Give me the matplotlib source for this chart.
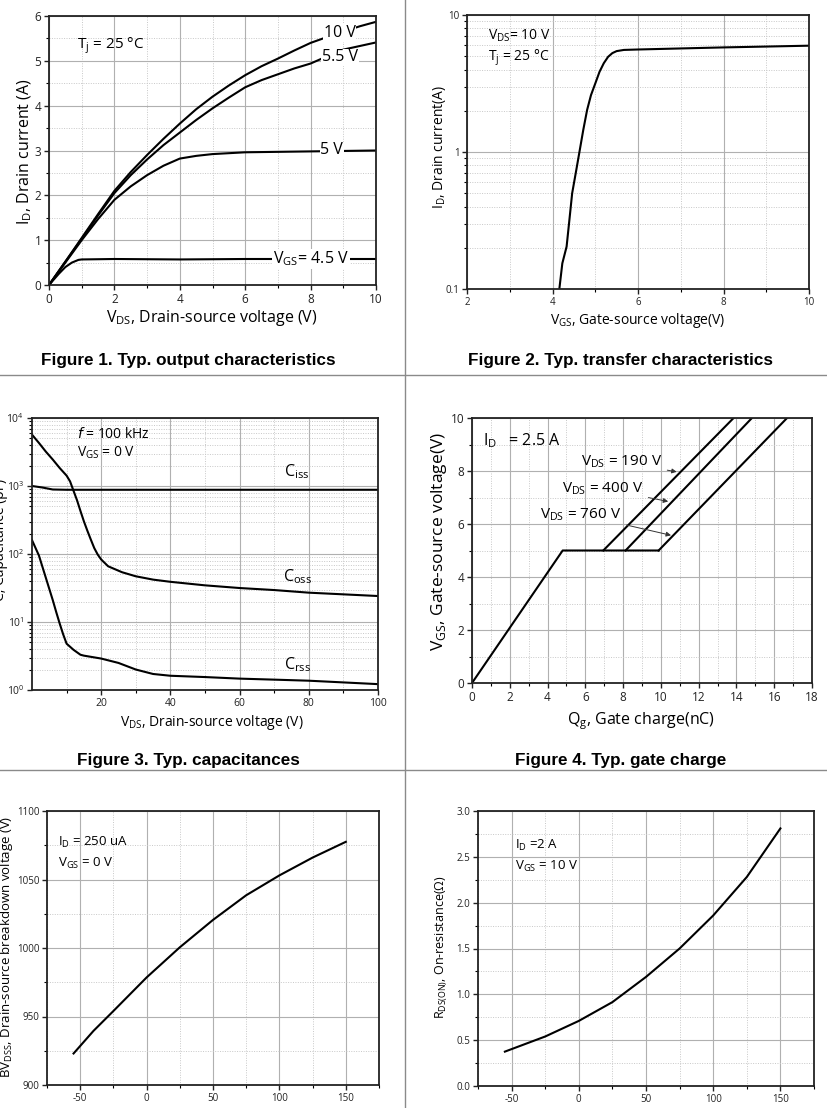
import matplotlib
matplotlib.use("Agg")
import matplotlib.pyplot as plt
from matplotlib.ticker import MultipleLocator, LogLocator, NullFormatter, FixedLocator, FormatStrFormatter
import numpy as np

plt.rcParams['font.family'] = ['Open Sans', 'DejaVu Sans']
plt.rcParams['mathtext.fontset'] = 'custom'
plt.rcParams['mathtext.rm'] = 'Open Sans'
plt.rcParams['axes.unicode_minus'] = False

W, H = 827, 1108

# ---------------- data ----------------
# Fig 1: output characteristics
f1_vds = [0, 0.5, 1, 1.5, 2, 2.5, 3, 3.5, 4, 4.5, 5, 5.5, 6, 6.5, 7, 7.5, 8, 8.5, 9, 9.5, 10]
f1_10v = [0, 0.52, 1.05, 1.58, 2.1, 2.52, 2.9, 3.26, 3.6, 3.92, 4.2, 4.45, 4.68, 4.88, 5.05, 5.23,
          5.4, 5.53, 5.65, 5.77, 5.87]
f1_55v = [0, 0.52, 1.03, 1.55, 2.05, 2.45, 2.8, 3.12, 3.4, 3.68, 3.94, 4.18, 4.41, 4.57, 4.7, 4.83,
          4.94, 5.1, 5.25, 5.33, 5.41]
f1_5v_x = [0, 0.5, 1, 1.5, 2, 2.5, 3, 3.5, 4, 4.5, 5, 6, 7, 8, 9, 10]
f1_5v = [0, 0.5, 1.0, 1.47, 1.9, 2.2, 2.45, 2.66, 2.82, 2.88, 2.92, 2.96, 2.97, 2.98, 2.99, 3.0]
f1_45v_x = [0, 0.3, 0.5, 0.7, 0.9, 1, 2, 4, 6, 8, 10]
f1_45v = [0, 0.25, 0.4, 0.5, 0.56, 0.57, 0.58, 0.57, 0.58, 0.58, 0.58]

# Fig 2: transfer characteristics
f2_vgs = [4.16, 4.23, 4.33, 4.4, 4.46, 4.55, 4.63, 4.72, 4.81, 4.9, 5.0, 5.1, 5.2, 5.3, 5.4, 5.5,
          5.67, 6, 7, 8, 10]
f2_id = [0.1, 0.154, 0.204, 0.33, 0.5, 0.72, 1.0, 1.45, 2.03, 2.6, 3.16, 3.85, 4.45, 4.95, 5.27,
         5.45, 5.56, 5.6, 5.7, 5.8, 5.97]

# Fig 3: capacitances
f3_ciss_v = [0, 3, 6, 10, 20, 40, 60, 80, 100]
f3_ciss = [1000, 950, 888, 880, 880, 880, 880, 880, 880]
f3_coss_v = [0, 2, 4, 6, 8, 10, 11, 12, 13, 14, 15, 16, 17, 18, 19, 20, 22, 26, 30, 35, 40, 50, 60,
             70, 80, 100]
f3_coss = [5690, 4300, 3200, 2450, 1840, 1420, 1170, 850, 620, 430, 302, 220, 163, 122, 98, 83, 66,
           54, 47, 42, 39, 34.6, 31.6, 29.5, 27, 24.1]
f3_crss_v = [0, 2, 4.5, 6, 7, 8, 9, 10, 12, 14, 15, 20, 25, 30, 35, 40, 50, 60, 70, 80, 100]
f3_crss = [160, 95, 37, 21, 14, 9.5, 6.6, 4.8, 3.9, 3.3, 3.2, 2.9, 2.5, 2.0, 1.72, 1.62, 1.55, 1.47,
           1.42, 1.37, 1.22]

# Fig 4: gate charge
f4_qg_base = [0, 4.8, 9.88]
f4_vgs_base = [0, 5, 5]
f4_190_q = [6.95, 13.85]
f4_400_q = [8.13, 14.82]
f4_760_q = [9.88, 16.68]
f4_branch_v = [5, 10]

# Fig 5: breakdown voltage vs temperature
f5_t = [-55, -40, -25, 0, 25, 50, 75, 100, 125, 150]
f5_bv = [923, 939.5, 954, 978.5, 1000.5, 1020.5, 1038.5, 1053, 1066, 1077.5]

# Fig 6: on-resistance vs temperature
f6_t = [-55, -25, 0, 25, 50, 75, 100, 125, 150]
f6_r = [0.375, 0.54, 0.71, 0.915, 1.19, 1.50, 1.86, 2.28, 2.81]

fig = plt.figure(figsize=(W / 100, H / 100), dpi=100)


def rect(x0, y0, x1, y1):
    return [x0 / W, 1 - y1 / H, (x1 - x0) / W, (y1 - y0) / H]


def ftxt(x, y, s, **kw):
    fig.text(x / W, 1 - y / H, s, **kw)


def style(ax, tsize=8):
    ax.grid(True, which='major', color='#b0b0b0', lw=0.8, ls='-')
    ax.grid(True, which='minor', color='#c8c8c8', lw=0.7, ls=(0, (1, 1.5)))
    ax.set_axisbelow(True)
    for s in ax.spines.values():
        s.set_linewidth(1.3)
        s.set_color('#222222')
    ax.tick_params(which='major', direction='out', length=3.5, width=1.0, labelsize=tsize,
                   colors='#222222', pad=2)
    ax.tick_params(which='minor', direction='out', length=2, width=0.8)
    ax.tick_params(axis='x', which='both', top=False)
    ax.tick_params(axis='y', which='both', right=False)


lw = 1.5
wbox = dict(facecolor='white', edgecolor='none', pad=0.5)
title_kw = dict(fontsize=12.3, fontweight='bold', family='Liberation Sans', ha='center', va='center')

# ---------------- Fig 1 ----------------
ax1 = fig.add_axes(rect(49, 16, 376, 285))
ax1.plot(f1_vds, f1_10v, 'k-', lw=lw)
ax1.plot(f1_vds, f1_55v, 'k-', lw=lw)
ax1.plot(f1_5v_x, f1_5v, 'k-', lw=lw)
ax1.plot(f1_45v_x, f1_45v, 'k-', lw=lw)
ax1.set_xlim(0, 10)
ax1.set_ylim(0, 6)
ax1.xaxis.set_major_locator(MultipleLocator(2))
ax1.xaxis.set_minor_locator(MultipleLocator(1))
ax1.yaxis.set_major_locator(MultipleLocator(1))
ax1.yaxis.set_minor_locator(MultipleLocator(0.5))
style(ax1, 8.5)
ax1.text(0.85, 5.35, r'T$_\mathregular{j}$ = 25 °C', fontsize=11, va='center')
ax1.text(8.4, 5.62, '10 V', fontsize=11.5, va='center', bbox=wbox)
ax1.text(8.35, 5.08, '5.5 V', fontsize=11.5, va='center', bbox=wbox)
ax1.text(8.3, 3.0, '5 V', fontsize=11.5, va='center', bbox=wbox)
ax1.text(6.85, 0.58, r'V$_\mathregular{GS}$= 4.5 V', fontsize=11.5, va='center', bbox=wbox)
ftxt(25, 152, r'I$_\mathregular{D}$, Drain current (A)', rotation=90, fontsize=11.5, ha='center', va='center')
ftxt(212, 318, r'V$_\mathregular{DS}$, Drain-source voltage (V)', fontsize=11.5, ha='center', va='center')
ftxt(188, 360, 'Figure 1. Typ. output characteristics', **title_kw)

# ---------------- Fig 2 ----------------
ax2 = fig.add_axes(rect(467, 15, 809, 289))
ax2.plot(f2_vgs, f2_id, 'k-', lw=lw)
ax2.set_yscale('log')
ax2.set_xlim(2, 10)
ax2.set_ylim(0.1, 10)
ax2.xaxis.set_major_locator(MultipleLocator(2))
ax2.xaxis.set_minor_locator(MultipleLocator(1))
ax2.yaxis.set_major_locator(FixedLocator([0.1, 1, 10]))
ax2.yaxis.set_minor_locator(LogLocator(base=10, subs=np.arange(2, 10)))
ax2.yaxis.set_minor_formatter(NullFormatter())
ax2.set_yticklabels(['0.1', '1', '10'])
style(ax2, 7)
ax2.text(2.5, 7.1, r'V$_\mathregular{DS}$= 10 V', fontsize=10, va='center')
ax2.text(2.5, 4.9, r'T$_\mathregular{j}$ = 25 °C', fontsize=10, va='center')
ftxt(439, 147, r'I$_\mathregular{D}$, Drain current(A)', rotation=90, fontsize=10, ha='center', va='center')
ftxt(638, 320, r'V$_\mathregular{GS}$, Gate-source voltage(V)', fontsize=10, ha='center', va='center')
ftxt(621, 361, 'Figure 2. Typ. transfer characteristics', **title_kw)

# ---------------- Fig 3 ----------------
ax3 = fig.add_axes(rect(32, 418, 378, 690))
ax3.plot(f3_ciss_v, f3_ciss, 'k-', lw=lw)
ax3.plot(f3_coss_v, f3_coss, 'k-', lw=lw)
ax3.plot(f3_crss_v, f3_crss, 'k-', lw=lw)
ax3.set_yscale('log')
ax3.set_xlim(0, 100)
ax3.set_ylim(1, 1e4)
ax3.xaxis.set_major_locator(FixedLocator([20, 40, 60, 80, 100]))
ax3.xaxis.set_minor_locator(FixedLocator([10, 30, 50, 70, 90]))
ax3.yaxis.set_major_locator(FixedLocator([1, 10, 100, 1000, 10000]))
ax3.yaxis.set_minor_locator(LogLocator(base=10, subs=np.arange(2, 10)))
ax3.yaxis.set_minor_formatter(NullFormatter())
ax3.set_yticklabels([r'10$^\mathregular{0}$', r'10$^\mathregular{1}$', r'10$^\mathregular{2}$',
                     r'10$^\mathregular{3}$', r'10$^\mathregular{4}$'])
style(ax3, 7.5)
ax3.text(72.8, 1640, r'C$_\mathregular{iss}$', fontsize=11.5, va='center')
ax3.text(72.5, 47, r'C$_\mathregular{oss}$', fontsize=11.5, va='center')
ax3.text(72.8, 2.35, r'C$_\mathregular{rss}$', fontsize=11.5, va='center')
ax3.text(13, 5800, r'$\it{f}$ = 100 kHz', fontsize=10, va='center')
ax3.text(13, 3050, r'V$_\mathregular{GS}$ = 0 V', fontsize=10, va='center')
ftxt(1, 540, 'C, Capacitance (pF)', rotation=90, fontsize=10, ha='center', va='center')
ftxt(212, 722, r'V$_\mathregular{DS}$, Drain-source voltage (V)', fontsize=10, ha='center', va='center')
ftxt(188, 760, 'Figure 3. Typ. capacitances', **title_kw)

# ---------------- Fig 4 ----------------
ax4 = fig.add_axes(rect(472, 418, 812, 683))
ax4.plot(f4_qg_base, f4_vgs_base, 'k-', lw=lw)
ax4.plot(f4_190_q, f4_branch_v, 'k-', lw=lw)
ax4.plot(f4_400_q, f4_branch_v, 'k-', lw=lw)
ax4.plot(f4_760_q, f4_branch_v, 'k-', lw=lw)
ax4.set_xlim(0, 18)
ax4.set_ylim(0, 10)
ax4.xaxis.set_major_locator(MultipleLocator(2))
ax4.xaxis.set_minor_locator(MultipleLocator(1))
ax4.yaxis.set_major_locator(MultipleLocator(2))
ax4.yaxis.set_minor_locator(MultipleLocator(1))
style(ax4, 8.5)
ax4.text(0.56, 9.16, r'I$_\mathregular{D}$   = 2.5 A', fontsize=11.5, va='center')
arrow = dict(arrowstyle='-|>', color='#333333', lw=0.7, mutation_scale=7)
ax4.annotate(r'V$_\mathregular{DS}$ = 190 V', xy=(10.98, 7.95), xytext=(5.75, 8.34),
             fontsize=11, va='center', arrowprops=arrow)
ax4.annotate(r'V$_\mathregular{DS}$ = 400 V', xy=(10.53, 6.83), xytext=(4.75, 7.34),
             fontsize=11, va='center', arrowprops=arrow)
ax4.annotate(r'V$_\mathregular{DS}$ = 760 V', xy=(10.68, 5.55), xytext=(3.6, 6.36),
             fontsize=11, va='center', arrowprops=arrow)
ftxt(439, 542, r'V$_\mathregular{GS}$, Gate-source voltage(V)', rotation=90, fontsize=12.5, ha='center', va='center')
ftxt(641, 721, r'Q$_\mathregular{g}$, Gate charge(nC)', fontsize=11.5, ha='center', va='center')
ftxt(621, 760, 'Figure 4. Typ. gate charge', **title_kw)

# ---------------- Fig 5 ----------------
ax5 = fig.add_axes(rect(47, 811, 379, 1085))
ax5.plot(f5_t, f5_bv, 'k-', lw=lw)
ax5.set_xlim(-75, 175)
ax5.set_ylim(900, 1100)
ax5.xaxis.set_major_locator(FixedLocator([-50, 0, 50, 100, 150]))
ax5.xaxis.set_minor_locator(FixedLocator([-75, -25, 25, 75, 125, 175]))
ax5.yaxis.set_major_locator(MultipleLocator(50))
ax5.yaxis.set_minor_locator(MultipleLocator(25))
style(ax5, 7)
ax5.text(-66.5, 1077, r'I$_\mathregular{D}$ = 250 uA', fontsize=9.5, va='center')
ax5.text(-66.5, 1062, r'V$_\mathregular{GS}$ = 0 V', fontsize=9.5, va='center')
ftxt(7, 947, r'BV$_\mathregular{DSS}$, Drain-source breakdown voltage (V)', rotation=90, fontsize=9.5,
     ha='center', va='center')

# ---------------- Fig 6 ----------------
ax6 = fig.add_axes(rect(478, 811, 814, 1086))
ax6.plot(f6_t, f6_r, 'k-', lw=lw)
ax6.set_xlim(-75, 175)
ax6.set_ylim(0, 3.0)
ax6.xaxis.set_major_locator(FixedLocator([-50, 0, 50, 100, 150]))
ax6.xaxis.set_minor_locator(FixedLocator([-75, -25, 25, 75, 125, 175]))
ax6.yaxis.set_major_locator(MultipleLocator(0.5))
ax6.yaxis.set_minor_locator(MultipleLocator(0.25))
ax6.yaxis.set_major_formatter(FormatStrFormatter('%.1f'))
style(ax6, 7)
ax6.text(-47.8, 2.62, r'I$_\mathregular{D}$ =2 A', fontsize=9.5, va='center')
ax6.text(-47.8, 2.39, r'V$_\mathregular{GS}$ = 10 V', fontsize=9.5, va='center')
ftxt(441, 947, r'R$_\mathregular{DS(ON)}$, On-resistance(Ω)', rotation=90, fontsize=9,
     ha='center', va='center')

# ---------------- cell dividers ----------------
div = dict(color='#8a8a8a', lw=1.0, transform=fig.transFigure)
fig.add_artist(plt.Line2D([405 / W, 405 / W], [0, 1], **div))
fig.add_artist(plt.Line2D([0, 1], [1 - 375 / H, 1 - 375 / H], **div))
fig.add_artist(plt.Line2D([0, 1], [1 - 770 / H, 1 - 770 / H], **div))

fig.savefig('out.png', dpi=100)
